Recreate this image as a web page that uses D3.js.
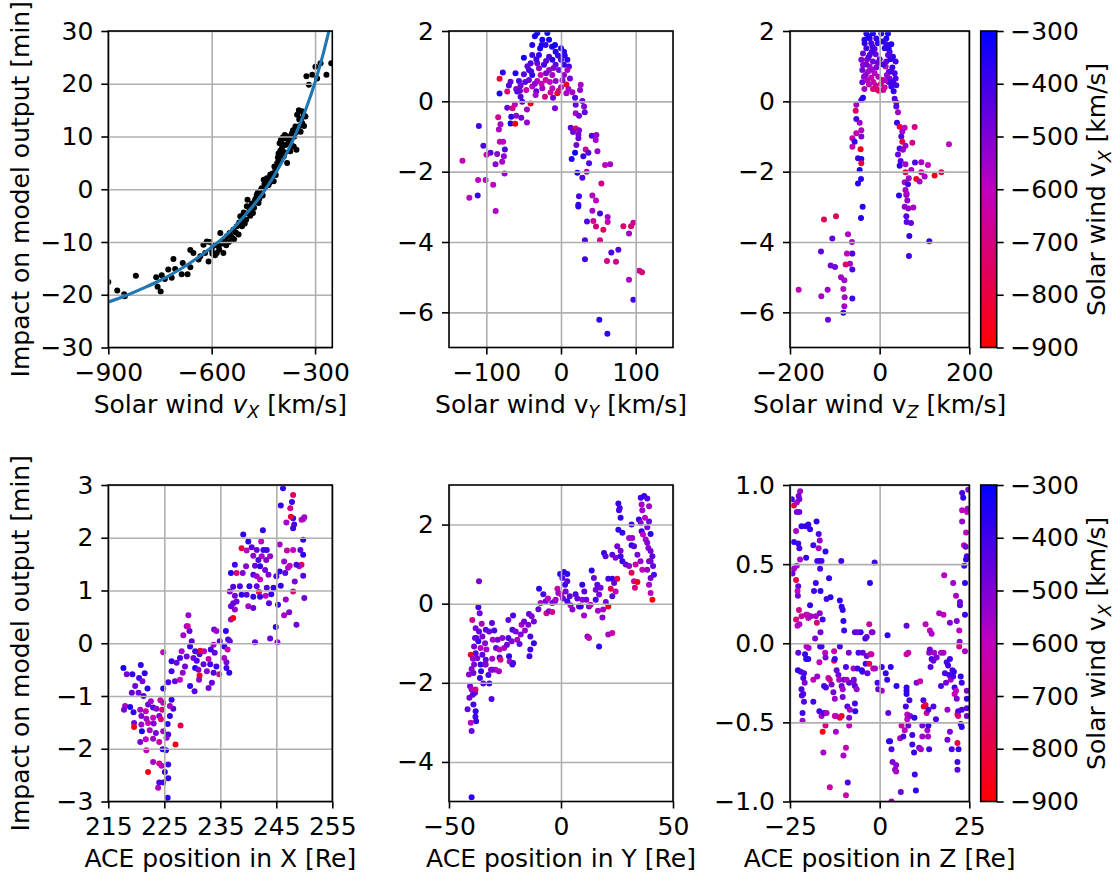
<!DOCTYPE html>
<html>
<head>
<meta charset="utf-8">
<script src="https://cdn.jsdelivr.net/npm/d3@7"></script>
<style>
  body { margin: 0; background: #fff; }
  text { font-family: "DejaVu Sans", sans-serif; fill: #000; }
</style>
</head>
<body>
<div id="chart"></div>
<script>
// ---- data ----
// [solar wind vx, impact]
const vxImpact = [[-900,-17.6],[-874,-19.2],[-854,-19.9],[-852,-20.3],[-820,-16.4],[-761,-16.7],[-757,-18.5],[-748,-19.4],[-745,-16.3],[-736,-17.0],[-726,-15.2],[-716,-16.8],[-711,-13.2],[-706,-15.1],[-687,-16.1],[-684,-14.0],[-670,-16.1],[-662,-11.5],[-662,-14.8],[-653,-12.1],[-638,-13.3],[-633,-12.7],[-624,-10.5],[-619,-12.1],[-614,-9.9],[-609,-13.7],[-605,-10.0],[-600,-11.5],[-598,-12.2],[-595,-10.7],[-590,-12.5],[-585,-12.1],[-580,-10.8],[-578,-11.4],[-575,-8.3],[-570,-10.3],[-566,-12.1],[-561,-9.9],[-558,-10.6],[-556,-8.9],[-550,-10.0],[-548,-8.3],[-545,-8.8],[-541,-9.2],[-537,-7.7],[-535,-9.5],[-530,-8.2],[-527,-7.0],[-522,-8.6],[-520,-6.3],[-517,-5.1],[-515,-6.4],[-512,-7.0],[-510,-5.5],[-507,-4.4],[-504,-6.5],[-500,-5.8],[-498,-3.2],[-496,-2.0],[-493,-4.6],[-490,-3.9],[-488,-5.0],[-486,-3.3],[-483,-2.7],[-480,-4.5],[-477,-3.5],[-474,-2.0],[-470,-1.5],[-469,-1.0],[-466,-0.6],[-464,-2.6],[-462,-1.8],[-459,-0.3],[-455,0.2],[-454,-0.9],[-452,-1.2],[-449,1.8],[-447,1.0],[-444,0.5],[-440,2.1],[-438,1.5],[-435,0.8],[-432,1.3],[-430,2.8],[-427,1.6],[-425,2.4],[-423,3.0],[-420,1.5],[-418,4.3],[-415,3.7],[-414,2.7],[-412,4.2],[-410,5.0],[-408,6.0],[-406,6.8],[-405,5.5],[-403,8.7],[-401,7.3],[-399,9.4],[-398,8.9],[-396,7.8],[-395,6.5],[-394,9.8],[-391,6.2],[-389,7.0],[-388,10.3],[-386,8.4],[-384,9.6],[-381,5.0],[-379,10.0],[-377,8.8],[-375,9.9],[-372,7.2],[-370,9.4],[-368,8.3],[-367,10.6],[-364,11.2],[-362,8.1],[-360,10.0],[-357,11.9],[-355,10.8],[-354,7.5],[-352,14.1],[-347,15.0],[-346,13.2],[-345,12.0],[-342,10.9],[-340,13.4],[-338,14.8],[-337,12.5],[-333,14.1],[-332,12.0],[-328,13.8],[-325,21.4],[-318,19.8],[-308,21.7],[-299,23.2],[-294,21.0],[-284,23.9],[-267,21.7],[-253,23.9]];

// fitted curve
const fitVx = [-900,-850,-800,-750,-700,-650,-600,-550,-500,-450,-400,-375,-350,-325,-300,-280,-261,-255];
const fitImpact = [-21.4,-20.2,-18.8,-17.3,-15.5,-13.4,-11.0,-8.2,-4.7,-0.6,4.7,7.8,11.4,15.5,20.3,24.8,29.7,31.3];

// [vy, impact, vx]
const vyPts = [[-31.8,1.94,-330],[-18.3,1.94,-330],[-25,1.75,-340],[-16,1.75,-330],[-38.5,1.6,-360],[-20.6,1.6,-380],[0,1.51,-340],[-7.2,1.41,-350],[4,1.41,-360],[-38.5,1.32,-400],[-29.5,1.32,-380],[-16,1.27,-420],[-49.7,1.24,-330],[-11.6,1.18,-360],[0,1.18,-400],[8.5,1.18,-370],[-40.7,1.08,-420],[-31.8,1.08,-470],[-22.8,1.04,-400],[-7.2,1.04,-450],[4,1.04,-390],[10.7,0.99,-420],[-29.5,0.94,-520],[-42.9,0.89,-390],[-16,0.89,-560],[-2.7,0.89,-480],[8.5,0.89,-560],[-77.9,0.82,-380],[-60.9,0.80,-350],[-49.7,0.77,-430],[-38.5,0.75,-370],[-27.3,0.75,-620],[-11.6,0.75,-560],[4,0.75,-530],[-82.3,0.64,-800],[-67.6,0.56,-460],[-56.3,0.58,-420],[-42.9,0.61,-470],[-31.8,0.58,-580],[-20.6,0.61,-650],[-7.2,0.58,-520],[7.2,0.48,-850],[26.4,0.47,-570],[-69.8,0.45,-430],[-54.1,0.45,-480],[-38.5,0.42,-600],[-25,0.37,-550],[-11.6,0.37,-600],[-72,0.28,-720],[-58.6,0.28,-400],[-46.5,0.32,-640],[-33.1,0.29,-450],[-4.9,0.23,-860],[7.2,0.23,-560],[15.2,0.26,-560],[25.5,0.32,-520],[-82.3,0.22,-350],[-54.1,0.13,-430],[-34,0.18,-560],[-21.5,0.13,-700],[-10.7,0.10,-470],[18.8,0.10,-430],[-51.9,-0.01,-420],[-40.7,-0.06,-830],[-61.8,-0.09,-600],[28.6,0.01,-470],[30.9,-0.15,-510],[-72,-0.18,-450],[-64.9,-0.2,-700],[-45.6,-0.23,-560],[-8.1,-0.2,-500],[19.7,-0.1,-470],[19.7,-0.34,-560],[24.2,-0.41,-480],[31.8,-0.31,-450],[-84.1,-0.45,-680],[-66.7,-0.44,-380],[-60,-0.41,-520],[-53.2,-0.47,-480],[-81,-0.65,-560],[-67.6,-0.63,-330],[-61.3,-0.64,-860],[-45.6,-0.6,-540],[-110,-0.7,-400],[-83.2,-0.8,-570],[13,-0.75,-450],[19.7,-0.77,-780],[24.2,-0.82,-520],[16.1,-0.87,-470],[23.3,-0.94,-500],[41.2,-0.98,-420],[47.4,-0.96,-540],[46.5,-1.1,-560],[23.3,-1.05,-470],[-81.9,-1.15,-600],[-77.5,-1.15,-600],[-104,-1.26,-420],[20.6,-1.24,-480],[-75.2,-1.37,-430],[33.1,-1.37,-660],[-94.4,-1.46,-440],[-85.5,-1.5,-520],[-76.5,-1.56,-520],[-99.8,-1.52,-640],[18.8,-1.46,-330],[29.9,-1.56,-380],[36.7,-1.46,-430],[48.8,-1.42,-540],[14.3,-1.64,-350],[-132,-1.69,-620],[-78.8,-1.72,-560],[-87.7,-1.79,-520],[37.6,-1.76,-430],[59,-1.81,-600],[65.8,-1.79,-560],[21.9,-2.03,-350],[34.4,-2,-640],[-75.6,-2.05,-540],[28.6,-2.17,-440],[-111,-2.24,-600],[-101,-2.24,-610],[-90.8,-2.37,-600],[54.1,-2.34,-680],[-122.8,-2.74,-600],[-111.6,-2.68,-400],[-87.5,-3.12,-580],[24.1,-2.70,-420],[23.2,-2.94,-380],[23.2,-2.99,-370],[42,-2.68,-580],[46.9,-2.82,-600],[42,-3.11,-560],[52.2,-3.19,-400],[43.3,-3.40,-680],[34.8,-3.42,-430],[46.9,-3.56,-700],[56.7,-3.65,-740],[62.5,-3.29,-560],[62.5,-3.43,-620],[83.5,-3.55,-740],[93.8,-3.55,-750],[96.9,-3.45,-660],[91.1,-3.76,-550],[52.2,-3.95,-680],[32.1,-3.95,-420],[67.4,-4.30,-420],[76.8,-4.22,-430],[61.6,-4.54,-690],[73.7,-4.56,-680],[32.1,-4.49,-400],[104.9,-4.82,-640],[108.5,-4.86,-720],[91.1,-5.07,-580],[96.9,-5.64,-400],[51.3,-6.21,-380],[62.1,-6.61,-380],[-35,1.85,-340],[-26,1.6,-360],[-12,1.55,-350],[-4,1.3,-380],[-45,1.0,-450],[-20,0.8,-500],[-35,0.5,-520],[-15,0.55,-600],[0,0.4,-560],[-60,0.35,-480],[-28,1.5,-340],[-8,1.6,-330],[5,1.3,-370],[-33,1.2,-390],[-20,1.15,-430],[-10,0.95,-500],[2,0.6,-540],[-48,0.55,-440],[-26,0.5,-620],[-3,0.3,-700],[12,0.65,-480],[-40,0.85,-410],[-14,0.25,-650],[-55,0.3,-460],[10,0.35,-560]];

// [vz, impact, vx]
const vzPts = [[-29.7,1.93,-350],[-14.9,1.93,-360],[3.7,1.93,-350],[18.6,1.93,-330],[-22.3,1.79,-370],[-7.4,1.79,-380],[14.9,1.79,-360],[-33.5,1.65,-380],[-18.6,1.65,-420],[14.9,1.62,-400],[26,1.62,-350],[-29.7,1.51,-400],[-11.2,1.49,-450],[11.2,1.51,-380],[22.3,1.41,-430],[-37.2,1.36,-470],[-22.3,1.32,-440],[-8.9,1.34,-470],[18.6,1.32,-450],[29.7,1.27,-380],[-40.9,1.18,-500],[-28.3,1.18,-540],[-14.9,1.13,-480],[14.9,1.13,-460],[35.7,1.13,-400],[-37.2,1.03,-520],[-22.3,0.99,-560],[-7.4,0.96,-500],[13.4,0.99,-620],[28.3,0.96,-380],[-38.7,0.89,-480],[-26,0.84,-560],[-11.2,0.80,-600],[20.8,0.84,-460],[33.5,0.80,-410],[-35,0.70,-520],[-18.6,0.67,-650],[5.9,0.61,-830],[22.3,0.65,-500],[35.7,0.65,-420],[-38.7,0.54,-470],[-23.8,0.48,-620],[-8.9,0.45,-660],[11.2,0.39,-630],[26,0.42,-380],[37.2,0.46,-420],[-14.9,0.35,-720],[-5.9,0.34,-680],[31.2,0.29,-380],[-37.2,0.10,-350],[-40.9,0.04,-380],[33.5,0.07,-440],[37.2,-0.03,-460],[-52,-0.10,-560],[37.2,-0.15,-430],[-53.5,-0.27,-750],[40.9,-0.31,-560],[-52,-0.50,-400],[-44.6,-0.61,-540],[38.7,-0.61,-380],[44.6,-0.72,-800],[55.8,-0.75,-600],[78.1,-0.73,-700],[-40.9,-0.82,-580],[50.6,-0.86,-560],[-52,-0.91,-620],[-60.9,-1.05,-640],[-40.9,-1.00,-500],[-55.8,-1.15,-380],[48.3,-1.00,-420],[50.6,-1.15,-800],[72.9,-1.18,-680],[57.6,-1.26,-540],[154.6,-1.22,-600],[-60.9,-1.29,-620],[-42.4,-1.36,-860],[44.6,-1.34,-400],[52,-1.38,-540],[40.9,-1.51,-460],[-48.3,-1.62,-400],[-40.9,-1.64,-360],[-40.9,-1.76,-800],[46.8,-1.70,-440],[57.6,-1.79,-560],[78.8,-1.74,-420],[92.9,-1.73,-560],[107.8,-1.81,-600],[44.6,-1.83,-380],[-44.6,-1.95,-350],[57.6,-2.02,-800],[70.6,-1.95,-560],[92.9,-2.02,-640],[122.6,-2.11,-860],[137.5,-2.02,-760],[81.8,-2.21,-860],[100.4,-2.14,-560],[65,-2.19,-560],[-41.6,-2.21,-370],[-48.3,-2.34,-360],[55.8,-2.30,-560],[63.2,-2.36,-400],[89.2,-2.28,-560],[57.6,-2.52,-540],[43.1,-2.68,-370],[59.5,-2.66,-540],[60.2,-2.63,-560],[61.7,-2.82,-520],[55.8,-3.00,-520],[63.9,-3.05,-540],[75.1,-3.02,-560],[-37.9,-3.00,-360],[59.5,-3.27,-430],[60.2,-3.43,-440],[69.9,-3.46,-470],[-41.6,-3.32,-350],[-124.2,-3.36,-760],[-97.4,-3.27,-770],[66.2,-3.83,-380],[110.8,-3.98,-380],[65.4,-4.40,-400],[-70.6,-3.78,-570],[-61.7,-4.00,-560],[-105.6,-3.90,-450],[-130.9,-4.27,-450],[-61,-4.33,-420],[-72.9,-4.33,-600],[-66.2,-4.62,-560],[-75.8,-4.64,-740],[-109.3,-4.67,-480],[-99.6,-4.71,-470],[-61,-4.78,-420],[-86.2,-5.00,-560],[-78.8,-5.09,-560],[-180.7,-5.36,-620],[-116,-5.36,-540],[-81,-5.34,-580],[-130.1,-5.54,-560],[-78.1,-5.57,-560],[-61,-5.61,-400],[-78.8,-5.83,-560],[-81,-6.01,-380],[-115.2,-6.21,-480],[-25,1.85,-340],[-4,1.65,-380],[6,1.7,-360],[-18,1.4,-420],[0,1.2,-450],[8,1.05,-400],[-30,1.05,-480],[-3,0.7,-560],[16,0.75,-520],[-28,0.6,-580],[3,0.5,-700],[20,0.55,-420],[-18,0.9,-540],[24,1.2,-380],[-34,1.75,-360],[-16,1.55,-400],[20,1.5,-360],[-25,1.25,-430],[-4,1.1,-470],[25,0.85,-420],[-31,0.75,-520],[-14,0.55,-640],[12,0.6,-560],[30,0.55,-400],[-2,0.3,-760],[8,0.32,-660],[-34,0.35,-560]];

// [ACE X, impact, vx]
const aceXPts = [[217.7,-0.47,-330],[218.3,-0.59,-480],[219.3,-0.59,-380],[220.8,-0.41,-380],[221.5,-0.57,-380],[220.5,-0.66,-400],[221.1,-0.72,-500],[219.8,-0.81,-480],[222.0,-0.86,-360],[220.4,-0.94,-480],[219.2,-0.94,-450],[221.3,-1.00,-420],[218.0,-1.19,-560],[218.9,-1.21,-350],[217.8,-1.26,-480],[219.5,-1.31,-380],[220.7,-1.26,-560],[221.7,-1.29,-650],[222.1,-1.16,-480],[222.6,-1.10,-560],[223.0,-1.22,-420],[223.6,-1.24,-520],[224.3,-1.08,-650],[224.8,-1.13,-600],[226.3,-1.07,-380],[226.6,-1.24,-430],[226.0,-1.19,-560],[224.6,-1.26,-700],[220.9,-1.38,-500],[221.8,-1.43,-560],[223.0,-1.41,-600],[224.1,-1.38,-480],[219.6,-1.51,-480],[220.9,-1.54,-540],[222.1,-1.51,-620],[223.1,-1.52,-500],[225.6,-1.53,-380],[224.4,-1.44,-720],[219.6,-1.59,-880],[226.0,-1.38,-370],[221.0,-1.67,-350],[222.4,-1.65,-560],[223.5,-1.70,-480],[224.8,-1.67,-560],[225.7,-1.73,-400],[220.7,-1.87,-500],[221.7,-1.82,-600],[223.0,-1.81,-540],[224.1,-1.87,-640],[225.4,-1.79,-500],[227.0,-1.92,-860],[227.9,-1.56,-800],[224.7,-2.01,-380],[225.3,-2.03,-360],[221.8,-2.03,-620],[223.0,-2.25,-560],[224.1,-2.28,-680],[224.5,-2.32,-580],[225.7,-2.30,-400],[222.1,-2.44,-860],[225.1,-2.44,-380],[225.7,-2.56,-380],[224.1,-2.64,-420],[224.8,-2.64,-400],[223.9,-2.74,-580],[225.6,-2.93,-370],[224.8,-0.17,-600],[224.8,-0.86,-360],[225.7,-0.74,-420],[226.3,-0.53,-400],[226.3,-0.34,-380],[227.2,-0.37,-460],[227.8,-0.28,-400],[226.9,-0.72,-450],[227.8,-0.69,-600],[228.3,-0.56,-540],[228.7,-0.44,-480],[228.1,-0.15,-560],[229.0,-0.25,-480],[228.4,0.15,-560],[229.3,0.53,-540],[229.0,0.32,-540],[229.5,0.23,-460],[229.9,0.04,-440],[229.6,-0.06,-400],[230.2,-0.28,-480],[230.8,-0.33,-420],[231.3,-0.21,-440],[230.5,-0.47,-360],[231.1,-0.50,-500],[232.0,-0.40,-440],[232.6,-0.53,-520],[233.2,-0.40,-400],[232.9,-0.30,-620],[231.3,-0.61,-860],[229.6,-0.81,-380],[230.4,-0.91,-440],[231.2,-0.69,-520],[232.9,-0.85,-480],[233.5,-0.75,-460],[233.8,-0.56,-420],[234.8,-0.59,-640],[234.3,-0.44,-400],[234.0,-0.18,-460],[233.8,-0.03,-560],[233.3,-0.12,-400],[232.1,-0.15,-580],[231.4,-0.14,-800],[230.5,-0.15,-420],[233.9,0.26,-480],[234.3,0.23,-540],[234.9,0.04,-440],[235.7,-0.06,-380],[236.0,0.23,-380],[236.4,0.07,-400],[236.7,0.04,-460],[236.3,-0.12,-650],[236.1,-0.36,-480],[236.1,-0.47,-400],[236.6,-0.56,-380],[235.7,-0.28,-560],[229.2,0.32,-640],[236.9,0.45,-520],[237.3,0.48,-860],[237.6,0.64,-540],[237.3,0.76,-480],[237.9,0.79,-460],[236.9,0.70,-460],[237.6,0.90,-480],[237.3,1.07,-420],[236.7,0.98,-500],[236.9,1.33,-360],[237.9,1.33,-720],[237.6,1.49,-400],[238.5,1.08,-420],[238.8,0.92,-380],[239.7,0.92,-440],[240.0,0.70,-560],[240.9,0.67,-460],[240.2,1.08,-380],[239.0,1.33,-500],[239.6,1.46,-520],[239.1,2.06,-380],[240.0,1.93,-360],[240.6,1.82,-440],[238.8,1.80,-800],[239.7,1.76,-600],[240.9,1.66,-520],[241.5,1.77,-460],[241.8,1.58,-420],[242.4,1.65,-560],[242.7,1.77,-400],[242.3,1.93,-600],[242.6,2.14,-380],[243.3,1.77,-400],[243.2,1.58,-500],[243.9,1.65,-540],[241.2,1.47,-460],[242.1,1.46,-380],[240.9,1.30,-420],[241.5,1.27,-560],[243.0,1.39,-480],[243.6,1.30,-500],[242.1,1.21,-600],[241.5,1.08,-460],[243.3,1.05,-440],[244.5,1.05,-380],[241.9,0.97,-800],[243.1,0.90,-600],[244.1,0.93,-380],[240.9,0.88,-380],[242.1,0.88,-380],[243.7,0.76,-440],[245.3,0.73,-380],[245.0,1.27,-420],[245.6,1.36,-380],[245.8,1.09,-380],[246.6,1.33,-440],[246.4,1.55,-540],[247.1,1.43,-560],[247.4,1.47,-600],[248.3,1.17,-500],[248.0,0.98,-720],[246.7,0.83,-540],[246.4,0.53,-560],[247.3,0.59,-500],[244.9,0.31,-380],[243.9,0.09,-470],[241.2,0.02,-470],[245.2,0.02,-520],[248.6,0.35,-470],[250.0,0.86,-480],[249.8,1.28,-440],[249.5,1.49,-800],[249.1,1.46,-600],[248.6,1.49,-420],[249.8,1.68,-380],[249.3,1.77,-440],[249.8,1.96,-380],[248.0,1.77,-600],[246.9,1.76,-640],[245.6,1.87,-560],[248.0,2.18,-400],[248.2,2.25,-420],[248.0,2.37,-400],[247.6,2.40,-820],[246.8,2.29,-560],[247.5,2.56,-680],[247.8,2.68,-380],[248.0,2.81,-760],[245.8,2.61,-380],[246.2,2.94,-380],[249.5,2.34,-600],[250.0,2.39,-560],[249.8,2.35,-560]];

// [ACE Y, impact, vx]
const aceYPts = [[-36.6,0.57,-500],[-36.9,-0.09,-420],[-39.6,-0.41,-700],[-36.3,-0.24,-480],[-35.4,-0.51,-560],[-38.1,-0.62,-500],[-33.6,-0.66,-440],[-36.6,-0.70,-460],[-32.1,-0.70,-460],[-35.1,-0.83,-500],[-38.4,-0.87,-480],[-36.9,-0.95,-380],[-33.9,-1.00,-520],[-38.8,-1.08,-480],[-35.9,-1.12,-600],[-33.3,-1.16,-560],[-38.1,-1.25,-440],[-40.3,-1.29,-850],[-35.1,-1.29,-450],[-37.4,-1.38,-500],[-39.3,-1.39,-540],[-33.6,-1.42,-440],[-35.9,-1.54,-380],[-38.8,-1.54,-500],[-39.9,-1.65,-520],[-31.3,-1.67,-560],[-35.7,-1.71,-380],[-33.6,-1.54,-620],[-37.8,-0.87,-450],[-30.8,-0.49,-450],[-29.8,-0.68,-420],[-28.3,-0.91,-500],[-30.5,-0.91,-560],[-29.0,-1.12,-460],[-27.5,-1.16,-600],[-26.2,-0.87,-520],[-25.4,-1.12,-560],[-23.5,-0.87,-420],[-24.1,-1.04,-480],[-21.7,-0.66,-420],[-22.0,-0.95,-500],[-20.2,-0.70,-480],[-19.5,-0.91,-560],[-18.5,-1.02,-460],[-21.4,-0.30,-420],[-23.5,-0.41,-460],[-17.6,-0.53,-560],[-16.5,-0.45,-480],[-14.3,-0.26,-460],[-13.1,-0.32,-500],[-12.1,-0.45,-480],[-14.6,-0.53,-500],[-16.1,-0.68,-540],[-18.0,-0.78,-500],[-13.7,-0.83,-420],[-12.1,-1.00,-380],[-13.7,-1.16,-400],[-14.1,-1.33,-400],[-23.2,-1.33,-380],[-21.7,-1.54,-380],[-27.4,-1.36,-420],[-27.0,-1.42,-700],[-30.7,-1.39,-560],[-22.9,-1.46,-560],[-29.2,-1.67,-600],[-27.7,-1.71,-560],[-21.4,-1.50,-420],[-30.7,-1.67,-500],[-33.9,-1.54,-500],[-32.4,-1.80,-420],[-10.1,-0.14,-460],[-9.1,0.02,-560],[-9.8,0.38,-380],[-7.9,0.24,-420],[-6.8,0.06,-480],[-6.5,-0.24,-700],[-5.8,0.13,-600],[-5.4,-0.19,-500],[-3.9,-0.21,-680],[-3.9,0.02,-480],[-2.7,0.06,-460],[-2.4,0.10,-560],[-1.6,0.38,-640],[-1.2,0.27,-560],[0.15,0.23,-600],[-0.4,0.75,-380],[1.3,0.80,-380],[2.8,0.75,-370],[0.6,0.65,-420],[1.8,0.48,-400],[2.8,0.57,-440],[2.1,0.31,-500],[0.9,0.13,-480],[2.8,0.06,-400],[3.9,0.19,-440],[4.3,-0.04,-560],[5.1,-0.15,-520],[6.5,0.24,-420],[7.3,0.13,-460],[8.0,-0.07,-480],[9.5,0.48,-380],[10.4,0.31,-440],[9.5,0.10,-520],[8.8,-0.07,-380],[11.3,0.10,-480],[12.5,-0.07,-500],[10.3,-0.30,-560],[13.7,0.84,-380],[14.7,0.65,-460],[16.2,0.48,-440],[17.7,0.40,-470],[15.5,0.35,-480],[17.0,0.23,-480],[13.2,-0.03,-600],[15.5,0.10,-400],[16.5,-0.18,-560],[18.8,-0.15,-560],[18.5,-0.35,-520],[11.8,-0.83,-520],[12.5,-0.87,-620],[17.0,-1.08,-380],[21.1,-0.78,-560],[22.9,-0.74,-640],[21.1,-0.07,-860],[20.0,0.04,-480],[22.9,0.19,-440],[24.4,0.31,-600],[22.2,0.38,-780],[21.1,0.63,-400],[22.9,0.63,-380],[25.1,0.63,-800],[23.7,0.52,-460],[19.2,1.28,-380],[19.9,1.20,-440],[22.9,1.24,-440],[24.4,1.16,-500],[26.6,1.20,-400],[27.4,1.07,-380],[25.1,1.45,-480],[26.6,1.34,-500],[28.9,0.99,-460],[30.4,0.95,-520],[31.5,0.78,-760],[33.3,0.99,-640],[34.1,1.24,-500],[35.5,1.07,-540],[36.3,0.86,-600],[32.6,0.57,-640],[34.1,0.55,-860],[33.0,0.40,-700],[25.6,1.87,-380],[27.4,1.79,-380],[26.6,2.17,-380],[25.9,2.36,-400],[25.6,2.53,-380],[26.2,2.42,-420],[30.4,1.66,-560],[31.8,1.66,-540],[31.5,1.48,-380],[32.6,1.45,-440],[31.5,2.00,-400],[34.8,2.13,-380],[36.0,1.83,-380],[36.6,1.75,-600],[37.8,1.62,-560],[38.5,1.54,-500],[39.0,1.41,-520],[40.0,1.33,-480],[40.8,1.20,-440],[40.0,1.07,-460],[41.1,0.95,-460],[41.5,0.73,-420],[40.0,0.65,-480],[39.3,0.48,-560],[40.0,0.27,-600],[40.8,0.10,-880],[39.3,1.07,-500],[38.5,0.86,-540],[35.6,2.68,-400],[37.1,2.72,-380],[38.5,2.66,-420],[36.0,2.51,-560],[39.3,2.46,-560],[36.3,2.36,-540],[37.5,2.17,-600],[39.3,2.08,-460],[40.0,1.76,-380],[38.5,1.93,-480],[35.6,2.04,-520],[-40.6,-2.09,-500],[-39.9,-2.17,-560],[-39.4,-2.30,-460],[-40.9,-2.38,-480],[-38.4,-2.25,-420],[-39.1,-2.55,-400],[-41.7,-2.67,-460],[-38.1,-2.72,-380],[-38.2,-2.86,-400],[-37.9,-2.97,-380],[-40.3,-3.01,-600],[-39.9,-3.22,-460],[-39.9,-4.89,-380],[-34.7,-2.02,-440],[-32.0,-2.02,-400],[-31.0,-2.41,-420],[-39.1,-1.75,-480],[-36.2,-1.88,-400],[-41.1,-1.79,-520],[-38.2,-2.17,-700]];

// [ACE Z, impact, vx]
const aceZPts = [[-24.5,0.91,-380],[-23.9,0.87,-800],[-23.1,0.89,-560],[-22.4,0.91,-500],[-22.2,0.96,-560],[-22.6,0.93,-480],[-23.1,0.83,-480],[-22.4,0.83,-480],[-23.3,0.71,-560],[-21.8,0.74,-380],[-23.9,0.64,-380],[-22.7,0.63,-400],[-22.4,0.60,-400],[-22.2,0.53,-560],[-23.1,0.49,-600],[-23.9,0.47,-560],[-24.3,0.44,-480],[-23.3,0.40,-780],[-22.7,0.36,-450],[-22.9,0.33,-600],[-22.8,0.30,-480],[-22.5,0.21,-680],[-23.3,0.15,-720],[-22.9,0.11,-600],[-22.4,0.12,-560],[-21.8,0.17,-640],[-20.5,0.18,-560],[-19.9,0.16,-600],[-19.2,0.17,-540],[-19.4,0.24,-380],[-20.2,0.18,-620],[-20.7,0.74,-380],[-19.9,0.75,-380],[-19.4,0.72,-380],[-17.6,0.77,-380],[-18.5,0.62,-400],[-17.0,0.69,-420],[-16.7,0.65,-520],[-17.0,0.60,-560],[-15.1,0.58,-380],[-20.5,0.54,-380],[-17.4,0.52,-420],[-16.7,0.52,-400],[-16.2,0.52,-420],[-16.6,0.47,-420],[-14.1,0.41,-380],[-17.8,0.38,-400],[-18.3,0.33,-400],[-16.5,0.33,-380],[-14.8,0.28,-400],[-13.7,0.29,-380],[-11.1,0.27,-380],[-10.6,0.23,-380],[-10.3,0.21,-380],[-10.1,0.14,-380],[-9.9,0.08,-400],[-10.7,0.52,-400],[-17.8,0.17,-560],[-16.7,0.19,-520],[-15.9,0.15,-400],[-16.5,0.07,-480],[-18.0,0.03,-500],[-17.5,0.13,-720],[-16.6,-0.02,-400],[-16.2,-0.02,-420],[-20.4,-0.02,-620],[-19.8,-0.03,-560],[-22.7,-0.06,-450],[-20.8,-0.07,-380],[-20.5,-0.10,-380],[-22.8,-0.17,-380],[-22.0,-0.18,-420],[-21.1,-0.19,-420],[-21.3,-0.22,-400],[-20.9,-0.25,-500],[-21.8,-0.29,-420],[-21.3,-0.32,-450],[-21.1,-0.37,-440],[-21.5,-0.44,-400],[-21.5,-0.49,-560],[-21.7,-0.33,-420],[-19.9,-0.10,-380],[-18.5,-0.23,-620],[-17.4,-0.21,-540],[-18.5,-0.37,-400],[-16.8,-0.43,-400],[-16.2,-0.46,-560],[-15.9,-0.56,-880],[-15.2,-0.06,-600],[-15.1,-0.09,-500],[-16.8,-0.12,-600],[-15.5,-0.27,-400],[-15.0,-0.28,-420],[-15.5,-0.44,-400],[-14.8,-0.44,-560],[-15.1,-0.52,-700],[-15.7,-0.69,-560],[-13.9,-0.91,-640],[-14.3,-0.22,-620],[-13.9,-0.23,-680],[-13.4,-0.26,-500],[-12.7,-0.11,-800],[-12.5,-0.10,-400],[-12.7,-0.05,-640],[-12.0,-0.17,-460],[-11.5,-0.20,-480],[-12.9,-0.31,-480],[-12.5,-0.35,-540],[-11.3,-0.23,-560],[-11.1,-0.02,-420],[-10.6,-0.27,-460],[-10.3,-0.29,-560],[-10.3,-0.34,-480],[-10.0,-0.23,-500],[-10.6,-0.46,-820],[-11.1,-0.47,-840],[-12.2,-0.46,-560],[-12.5,-0.46,-620],[-12.2,-0.56,-560],[-10.1,-0.71,-560],[-9.4,-0.66,-620],[-8.9,-0.88,-420],[-9.4,-0.96,-640],[-8.5,-0.25,-420],[-9.2,-0.23,-560],[-9.0,-0.40,-440],[-8.3,-0.42,-560],[-8.5,-0.47,-500],[-8.5,-0.52,-600],[-9.4,-0.15,-420],[-8.6,-0.06,-500],[-7.3,-0.25,-520],[-7.2,-0.23,-480],[-6.9,-0.27,-440],[-6.8,-0.43,-380],[-6.9,-0.38,-420],[-6.4,-0.29,-540],[-7.3,-0.16,-560],[-6.2,-0.16,-400],[-5.9,-0.06,-420],[-5.3,0.07,-380],[-6.9,0.07,-420],[-6.2,0.07,-480],[-4.8,-0.18,-420],[-5.0,-0.17,-380],[-4.7,-0.06,-460],[-3.9,-0.13,-400],[-3.6,-0.08,-480],[-3.4,-0.19,-460],[-2.9,-0.13,-760],[-2.6,-0.07,-640],[-2.3,-0.07,-640],[-1.8,-0.16,-680],[-1.3,-0.16,-560],[-4.0,0.03,-380],[-3.6,0.04,-450],[-2.9,0.12,-640],[-2.2,0.07,-520],[-2.0,0.07,-500],[-2.7,0.38,-380],[-1.4,0.51,-400],[-0.6,-0.25,-420],[-0.4,-0.29,-460],[0.6,-0.30,-560],[0.6,-0.15,-400],[1.7,-0.19,-380],[2.1,-0.23,-400],[2.2,0.05,-380],[3.1,-0.15,-380],[2.4,-0.44,-460],[2.6,-0.62,-400],[3.3,-0.67,-420],[2.9,-0.62,-380],[3.6,-0.75,-500],[4.3,-0.80,-520],[4.6,-0.77,-520],[4.7,-0.27,-380],[4.6,-0.81,-580],[5.9,-0.94,-460],[3.3,-1.00,-560],[5.7,-0.60,-560],[6.1,-0.52,-640],[6.6,-0.59,-420],[7.0,-0.55,-600],[7.3,-0.40,-400],[7.5,-0.28,-380],[7.5,-0.30,-380],[7.5,-0.32,-380],[8.0,-0.06,-620],[7.5,-0.07,-640],[7.5,0.11,-450],[7.7,-0.45,-620],[8.0,-0.52,-480],[7.7,-0.48,-600],[8.3,-0.36,-420],[8.5,-0.46,-520],[9.1,-0.64,-400],[9.1,-0.58,-400],[9.6,-0.69,-380],[9.7,-0.47,-380],[9.8,-0.83,-400],[10.1,-0.93,-380],[10.3,-0.25,-500],[11.3,-0.24,-640],[11.0,-0.66,-480],[11.5,-0.67,-560],[11.9,-0.52,-500],[11.9,-0.59,-560],[12.2,-0.36,-420],[12.3,-0.40,-860],[12.8,0.12,-600],[12.8,-0.39,-800],[13.1,-0.44,-660],[13.3,-0.55,-560],[13.5,-0.59,-560],[13.6,-0.42,-440],[13.6,-0.52,-380],[13.8,-0.67,-400],[13.8,-0.06,-520],[14.0,-0.04,-480],[14.0,0.08,-600],[14.5,0.06,-560],[14.2,-0.15,-440],[14.5,-0.10,-400],[15.0,-0.11,-460],[15.2,-0.06,-560],[15.0,-0.40,-420],[15.7,-0.48,-420],[15.9,-0.09,-500],[16.6,0.19,-560],[17.1,-0.06,-560],[17.1,-0.27,-420],[17.8,0.18,-620],[17.8,-0.06,-560],[18.0,0.43,-580],[18.2,-0.19,-420],[18.5,-0.25,-480],[18.7,-0.12,-420],[18.9,-0.42,-540],[18.9,-0.61,-480],[19.1,-0.14,-400],[19.4,-0.20,-400],[19.6,0.13,-500],[19.6,-0.10,-400],[19.6,-0.56,-500],[19.8,-0.23,-560],[20.1,-0.67,-420],[20.3,-0.17,-440],[20.5,0.38,-540],[20.5,-0.21,-420],[20.7,-0.18,-380],[20.9,-0.28,-380],[20.9,-0.32,-640],[21.3,0.30,-560],[21.3,-0.30,-600],[21.5,0.14,-500],[21.5,-0.35,-500],[21.7,-0.45,-880],[21.7,-0.63,-800],[21.7,-0.75,-400],[21.7,-0.80,-440],[21.9,-0.43,-420],[21.9,-0.46,-700],[22.0,-0.67,-380],[22.2,0.08,-600],[22.2,-0.02,-700],[22.3,0.01,-520],[22.4,0.26,-480],[22.4,0.24,-440],[22.6,-0.21,-380],[22.6,-0.51,-380],[22.9,-0.25,-400],[22.9,-0.42,-420],[22.9,-0.53,-380],[23.0,0.77,-540],[23.0,0.84,-600],[23.0,0.95,-420],[23.3,0.92,-380],[23.5,0.62,-600],[23.6,0.49,-400],[23.8,0.38,-380],[23.8,0.18,-400],[23.8,-0.05,-560],[24.0,0.61,-480],[24.1,0.70,-600],[24.1,0.53,-380],[24.3,0.55,-420],[24.3,-0.30,-500],[24.3,-0.35,-380],[24.3,-0.41,-440],[24.3,-0.46,-480],[24.4,0.83,-600],[24.5,0.85,-560],[24.7,0.97,-500]];

// tick values
const vxTicks = [-900, -600, -300];
const impactTicksA = [-30, -20, -10, 0, 10, 20, 30];
const vyTicks = [-100, 0, 100];
const vzTicks = [-200, 0, 200];
const impactTicksB = [-6, -4, -2, 0, 2];
const cbarTicks = [-900, -800, -700, -600, -500, -400, -300];
const aceXTicks = [215, 225, 235, 245, 255];
const aceYTicks = [-50, 0, 50];
const aceZTicks = [-25, 0, 25];
const impactTicksX = [-3, -2, -1, 0, 1, 2, 3];
const impactTicksY = [-4, -2, 0, 2];
const impactTicksZ = [-1, -0.5, 0, 0.5, 1];

// ---- drawing ----
const W = 1119, H = 877, FS = 25;
const svg = d3.select('#chart').append('svg').attr('width', W).attr('height', H);
const defs = svg.append('defs');

const cmap = d3.scaleLinear().domain([-900, -600, -300]).range(['#ff0000', '#bf00bf', '#0000ff']).clamp(true);

// label pieces: strings or {t, it, sub}
function richText(sel, parts) {
    let shifted = 0;
    parts.forEach(p => {
        if (typeof p === 'string') {
            sel.append('tspan').attr('dy', -shifted).text(p);
            shifted = 0;
        } else if (p.sub) {
            sel.append('tspan').attr('dy', 5.5).attr('font-size', FS * 0.7).attr('font-style', 'italic').text(p.sub);
            shifted = 5.5;
        } else {
            sel.append('tspan').attr('dy', -shifted).attr('font-style', p.it ? 'italic' : null).text(p.t);
            shifted = 0;
        }
    });
}

function panel(o) {
    const x = d3.scaleLinear().domain(o.xDomain).range([o.left, o.right]);
    const y = d3.scaleLinear().domain(o.yDomain).range([o.bottom, o.top]);
    const g = svg.append('g');

    defs.append('clipPath').attr('id', 'clip' + o.id)
        .append('rect').attr('x', o.left).attr('y', o.top)
        .attr('width', o.right - o.left).attr('height', o.bottom - o.top);

    // points
    g.append('g').attr('clip-path', `url(#clip${o.id})`)
        .selectAll('circle').data(o.points).join('circle')
        .attr('cx', d => x(d[0])).attr('cy', d => y(d[1])).attr('r', 3)
        .attr('fill', d => o.black ? '#000' : cmap(d[2]));

    // grid (drawn above scatter like matplotlib)
    g.append('g').attr('transform', `translate(0,${o.bottom})`)
        .call(d3.axisBottom(x).tickValues(o.xTicks).tickSize(-(o.bottom - o.top)).tickFormat(''))
        .call(a => a.select('.domain').remove())
        .selectAll('line').attr('stroke', '#b0b0b0').attr('stroke-width', 1.6);
    g.append('g').attr('transform', `translate(${o.left},0)`)
        .call(d3.axisLeft(y).tickValues(o.yTicks).tickSize(-(o.right - o.left)).tickFormat(''))
        .call(a => a.select('.domain').remove())
        .selectAll('line').attr('stroke', '#b0b0b0').attr('stroke-width', 1.6);

    if (o.fit) {
        const fitPts = o.fit[0].map((v, i) => [v, o.fit[1][i]]);
        g.append('path').attr('clip-path', `url(#clip${o.id})`)
            .datum(fitPts)
            .attr('fill', 'none').attr('stroke', '#1f77b4').attr('stroke-width', 3.1)
            .attr('d', d3.line().x(d => x(d[0])).y(d => y(d[1])).curve(d3.curveMonotoneX));
    }

    // axes
    const ax = g.append('g').attr('transform', `translate(0,${o.bottom})`)
        .call(d3.axisBottom(x).tickValues(o.xTicks).tickFormat(d3.format('d')).tickSize(7).tickPadding(9));
    const ay = g.append('g').attr('transform', `translate(${o.left},0)`)
        .call(d3.axisLeft(y).tickValues(o.yTicks).tickFormat(d3.format(o.yFmt || 'd')).tickSize(7).tickPadding(8));
    [ax, ay].forEach(a => {
        a.select('.domain').remove();
        a.selectAll('line').attr('stroke', '#000').attr('stroke-width', 1.6);
        a.selectAll('text').attr('font-size', FS).attr('font-family', 'DejaVu Sans').attr('fill', '#000');
    });

    g.append('rect').attr('x', o.left).attr('y', o.top)
        .attr('width', o.right - o.left).attr('height', o.bottom - o.top)
        .attr('fill', 'none').attr('stroke', '#000').attr('stroke-width', 1.6);

    const xl = g.append('text').attr('x', (o.left + o.right) / 2).attr('y', o.bottom + 65)
        .attr('text-anchor', 'middle').attr('font-size', FS);
    richText(xl, o.xLabel);

    if (o.yLabel) {
        g.append('text').attr('transform', `translate(29,${(o.top + o.bottom) / 2}) rotate(-90)`)
            .attr('text-anchor', 'middle').attr('font-size', FS).text(o.yLabel);
    }
}

function colorbar(id, left, right, top, bottom) {
    const grad = defs.append('linearGradient').attr('id', 'grad' + id)
        .attr('x1', 0).attr('y1', 1).attr('x2', 0).attr('y2', 0);
    [-900, -600, -300].forEach(v => grad.append('stop')
        .attr('offset', (v + 900) / 600).attr('stop-color', cmap(v)));
    const c = d3.scaleLinear().domain([-900, -300]).range([bottom, top]);
    svg.append('rect').attr('x', left).attr('y', top).attr('width', right - left).attr('height', bottom - top)
        .attr('fill', `url(#grad${id})`).attr('stroke', '#000').attr('stroke-width', 1.6);
    const a = svg.append('g').attr('transform', `translate(${right},0)`)
        .call(d3.axisRight(c).tickValues(cbarTicks).tickFormat(d3.format('d')).tickSize(7).tickPadding(6.5));
    a.select('.domain').remove();
    a.selectAll('line').attr('stroke', '#000').attr('stroke-width', 1.6);
    a.selectAll('text').attr('font-size', FS).attr('font-family', 'DejaVu Sans').attr('fill', '#000');
    const t = svg.append('text').attr('transform', `translate(1105,${(top + bottom) / 2}) rotate(-90)`)
        .attr('text-anchor', 'middle').attr('font-size', FS);
    richText(t, ['Solar wind v', {sub: 'X'}, ' [km/s]']);
}

const topRow = {top: 31, bottom: 347.5};
const botRow = {top: 485, bottom: 801.5};
const col1 = {left: 108.3, right: 332.3};
const col2 = {left: 449, right: 673};
const col3 = {left: 790, right: 969.3};
const yLab = 'Impact on model output [min]';

panel({id: 1, ...topRow, ...col1, xDomain: [-900, -250], yDomain: [-30, 30], xTicks: vxTicks, yTicks: impactTicksA,
    points: vxImpact, black: true, fit: [fitVx, fitImpact],
    xLabel: ['Solar wind ', {t: 'v', it: true}, {sub: 'X'}, ' [km/s]'], yLabel: yLab});
panel({id: 2, ...topRow, ...col2, xDomain: [-150, 150], yDomain: [-7, 2], xTicks: vyTicks, yTicks: impactTicksB,
    points: vyPts, xLabel: ['Solar wind v', {sub: 'Y'}, ' [km/s]']});
panel({id: 3, ...topRow, ...col3, xDomain: [-200, 200], yDomain: [-7, 2], xTicks: vzTicks, yTicks: impactTicksB,
    points: vzPts, xLabel: ['Solar wind v', {sub: 'Z'}, ' [km/s]']});
colorbar(1, 980.7, 996.7, topRow.top, topRow.bottom);

panel({id: 4, ...botRow, ...col1, xDomain: [215, 255], yDomain: [-3, 3], xTicks: aceXTicks, yTicks: impactTicksX,
    points: aceXPts, xLabel: ['ACE position in X [Re]'], yLabel: yLab});
panel({id: 5, ...botRow, ...col2, xDomain: [-50, 50], yDomain: [-5, 3], xTicks: aceYTicks, yTicks: impactTicksY,
    points: aceYPts, xLabel: ['ACE position in Y [Re]']});
panel({id: 6, ...botRow, ...col3, xDomain: [-25, 25], yDomain: [-1, 1], xTicks: aceZTicks, yTicks: impactTicksZ, yFmt: '.1f',
    points: aceZPts, xLabel: ['ACE position in Z [Re]']});
colorbar(2, 980.7, 996.7, botRow.top, botRow.bottom);
</script>
</body>
</html>
